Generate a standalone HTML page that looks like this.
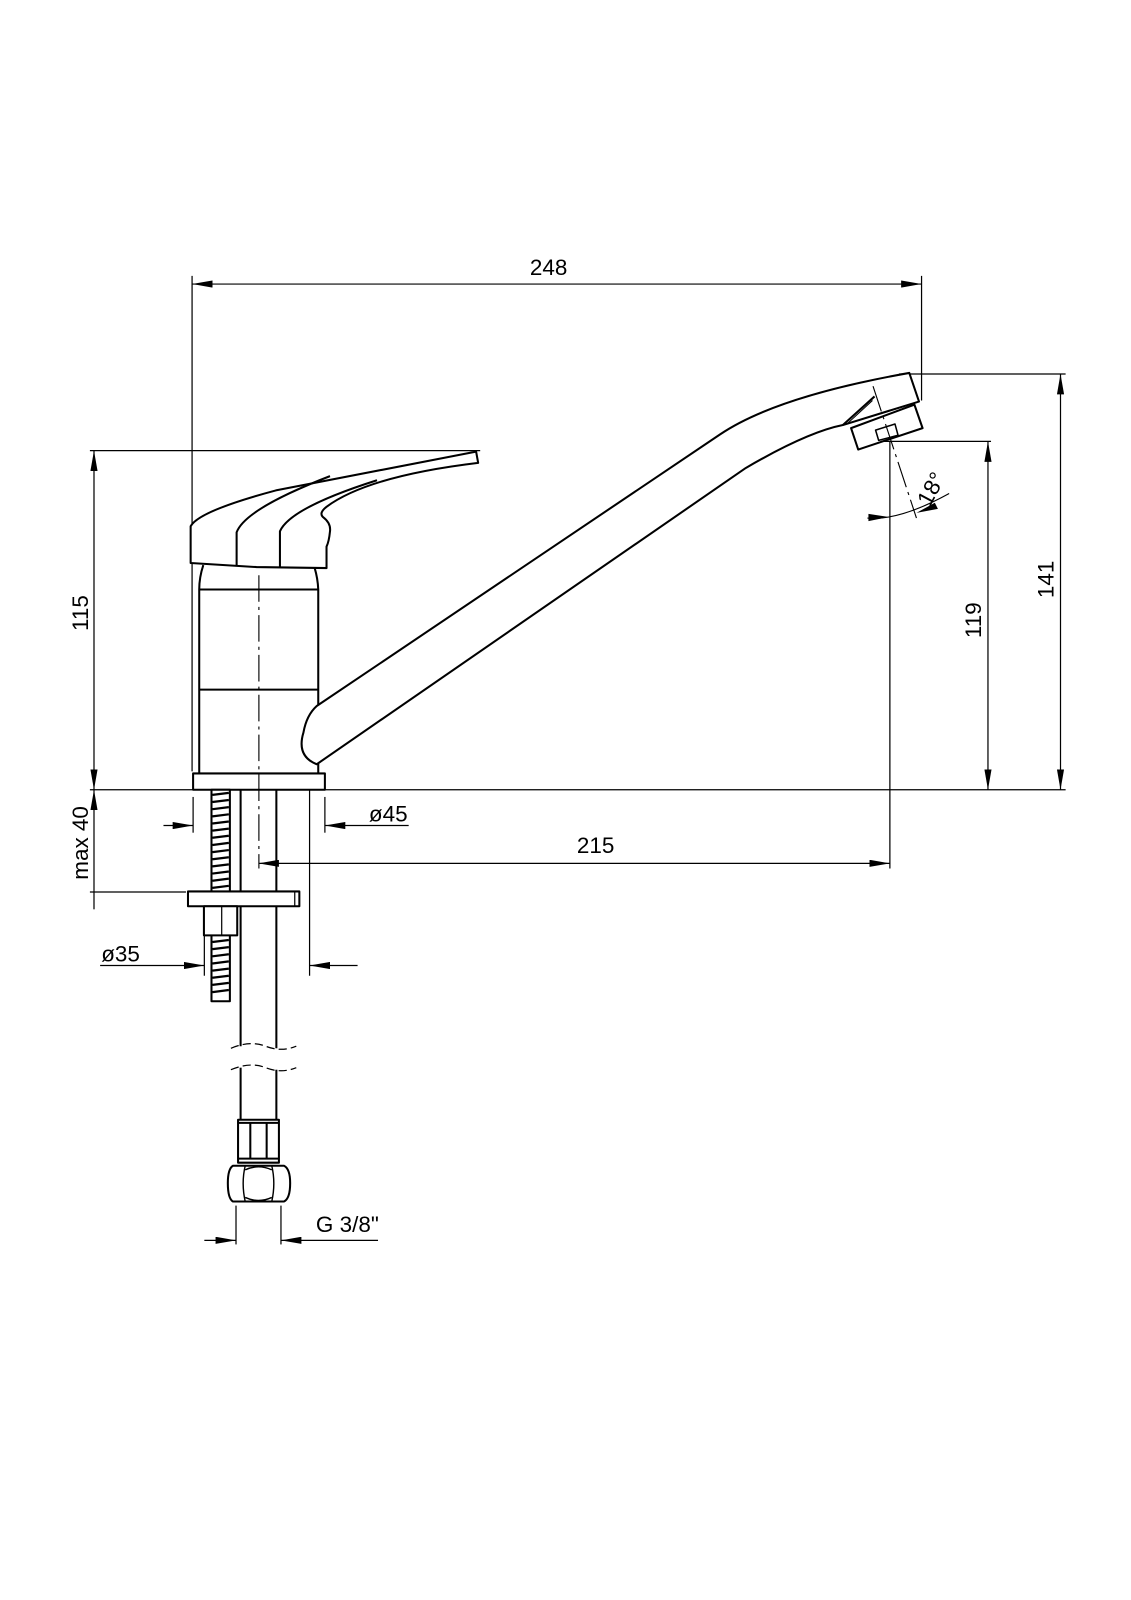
<!DOCTYPE html>
<html><head><meta charset="utf-8"><style>
html,body{margin:0;padding:0;background:#fff;}
svg{display:block;}
text{font-family:"Liberation Sans Narrow","Liberation Sans",sans-serif;font-size:22px;fill:#000;}
</style></head><body>
<svg width="1131" height="1600" viewBox="0 0 1107 1566" xmlns="http://www.w3.org/2000/svg">
<defs>
<marker id="a" viewBox="0 0 20 7" refX="20" refY="3.5" markerWidth="20" markerHeight="7" markerUnits="userSpaceOnUse" orient="auto-start-reverse">
<path d="M0,0 L20,3.5 L0,7 Z" fill="#000"/>
</marker>
</defs>
<g fill="none" stroke="#000" stroke-width="1.2">
<line x1="188" y1="278" x2="902" y2="278" marker-start="url(#a)" marker-end="url(#a)"/>
<line x1="188" y1="270" x2="188" y2="755"/>
<line x1="902" y1="270" x2="902" y2="392"/>
<line x1="88" y1="773" x2="1043" y2="773"/>
<line x1="88" y1="441" x2="470" y2="441"/>
<line x1="92" y1="441" x2="92" y2="773" marker-start="url(#a)" marker-end="url(#a)"/>
<line x1="880" y1="366" x2="1043" y2="366"/>
<line x1="1038" y1="366" x2="1038" y2="773" marker-start="url(#a)" marker-end="url(#a)"/>
<line x1="860" y1="432" x2="970" y2="432"/>
<line x1="967" y1="432" x2="967" y2="773" marker-start="url(#a)" marker-end="url(#a)"/>
<line x1="871" y1="432" x2="871" y2="850"/>
<line x1="253" y1="845" x2="871" y2="845" marker-start="url(#a)" marker-end="url(#a)"/>
<line x1="189" y1="780" x2="189" y2="815"/>
<line x1="318" y1="780" x2="318" y2="815"/>
<line x1="160" y1="808" x2="189" y2="808" marker-end="url(#a)"/>
<line x1="400" y1="808" x2="318" y2="808" marker-end="url(#a)"/>
<line x1="92" y1="773" x2="92" y2="872" marker-start="url(#a)"/>
<line x1="92" y1="872" x2="92" y2="890" />
<line x1="88" y1="873" x2="182" y2="873"/>
<line x1="200" y1="887" x2="200" y2="955"/>
<line x1="303" y1="773" x2="303" y2="955"/>
<line x1="98" y1="945" x2="200" y2="945" marker-end="url(#a)"/>
<line x1="350" y1="945" x2="303" y2="945" marker-end="url(#a)"/>
<line x1="231" y1="1180" x2="231" y2="1218"/>
<line x1="275" y1="1180" x2="275" y2="1218"/>
<line x1="200" y1="1214" x2="231" y2="1214" marker-end="url(#a)"/>
<line x1="370" y1="1214" x2="275" y2="1214" marker-end="url(#a)"/>
</g>

<g fill="none" stroke="#000" stroke-width="2" stroke-linejoin="round">
<path d="M186.6,551 L186.6,515 Q195,500 270,480 Q300,474 466,442 L468,453 Q360,466 319.6,496 Q312,502 316,506 Q324,512 323,520 Q322,530 319.6,535 L319.6,556 L251,555 Z" fill="#fff"/>
<path d="M231.6,554.5 L231.6,521 Q240,498 323,466"/>
<path d="M274,555 L274,520 Q284,497 369,470"/>
<path d="M199,553 Q195,565 195,577 L195,757 M308,556 Q311,566 311.5,577 L311.5,757"/>
<line x1="195" y1="577" x2="311.5" y2="577"/>
<line x1="195" y1="675" x2="311.5" y2="675"/>
<rect x="189" y="757" width="129" height="16" fill="#fff"/>
<path d="M310,691 L705,425 Q760,388 890,365 L899.5,393 L825,416 Q790,423 730,458 L310,748 Q290,740 297,717 Q300,700 310,691 Z" fill="#fff"/>
<path d="M895,396 L903,419 L840,440 L833,419 Z" fill="#fff"/>
<path d="M825,416 L856,388"/>
<path d="M830,414 L854,392" stroke-width="1"/>
<path d="M857,421 L876,415 L879,426 L860,431 Z" stroke-width="1.5"/>
<line x1="235.5" y1="773" x2="235.5" y2="1024"/>
<line x1="270.5" y1="773" x2="270.5" y2="1026"/>
<line x1="235.5" y1="1045" x2="235.5" y2="1096"/>
<line x1="270.5" y1="1047" x2="270.5" y2="1096"/>
<rect x="207" y="773" width="18" height="207" fill="#fff"/>
<rect x="184" y="872.5" width="109" height="14.5" fill="#fff"/>
<line x1="288.5" y1="872.5" x2="288.5" y2="887" stroke-width="1.2"/>
<rect x="199.6" y="887" width="32.6" height="28.5" fill="#fff"/>
<line x1="217" y1="887" x2="217" y2="915.5" stroke-width="1.2"/>
<rect x="233" y="1096" width="40" height="42" fill="#fff"/>
<line x1="233" y1="1099" x2="273" y2="1099"/>
<line x1="233" y1="1134" x2="273" y2="1134"/>
<line x1="245" y1="1099" x2="245" y2="1134"/>
<line x1="261" y1="1099" x2="261" y2="1134"/>
<path d="M228,1141 L278,1141 Q284,1144 284,1158 Q284,1173 278,1176 L228,1176 Q223,1173 223,1158 Q223,1144 228,1141 Z" fill="#fff"/>
<path d="M240,1141 Q236,1158 240,1176 M266,1141 Q270,1158 266,1176 M240,1145 Q253,1139 266,1145 M240,1172 Q253,1178 266,1172" stroke-width="1.4"/>
</g>
<g stroke="#000" stroke-width="2.2">
<path d="M208,778 L224,776 M208,785 L224,783 M208,792 L224,790 M208,799 L224,797 M208,806 L224,804 M208,813 L224,811 M208,820 L224,818 M208,827 L224,825 M208,834 L224,832 M208,841 L224,839 M208,848 L224,846 M208,855 L224,853 M208,862 L224,860 M208,869 L224,867"/>
<path d="M208,922 L224,920 M208,929 L224,927 M208,936 L224,934 M208,943 L224,941 M208,950 L224,948 M208,957 L224,955 M208,964 L224,962 M208,971 L224,969"/>
</g>
<g fill="none" stroke="#000" stroke-width="1.2" stroke-dasharray="8,4">
<path d="M226,1026 Q245,1018 260,1024 Q275,1030 290,1024"/>
<path d="M226,1047 Q245,1039 260,1045 Q275,1051 290,1045"/>
</g>
<g fill="none" stroke="#000" stroke-width="1.1" stroke-dasharray="26,5,3,5">
<line x1="253.4" y1="563" x2="253.4" y2="850"/>
<line x1="854.5" y1="378" x2="897" y2="507"/>
</g>
<path d="M849,507 Q880,510 929,483" fill="none" stroke="#000" stroke-width="1.1"/>
<path d="M870,506 L850,503 L850,510 Z" fill="#000"/>
<path d="M897,502 L915,492 L918,498 Z" fill="#000"/>
<text x="537" y="269" text-anchor="middle">248</text>
<text x="583" y="835" text-anchor="middle">215</text>
<text x="380" y="804" text-anchor="middle">ø45</text>
<text x="118" y="941" text-anchor="middle">ø35</text>
<text x="340" y="1206" text-anchor="middle">G 3/8"</text>
<text transform="translate(86,600) rotate(-90)" text-anchor="middle">115</text>
<text transform="translate(86,825) rotate(-90)" text-anchor="middle">max 40</text>
<text transform="translate(960,607) rotate(-90)" text-anchor="middle">119</text>
<text transform="translate(1031,567) rotate(-90)" text-anchor="middle">141</text>
<text transform="translate(918,482) rotate(-62)" text-anchor="middle">18°</text>
</svg>
</body></html>
